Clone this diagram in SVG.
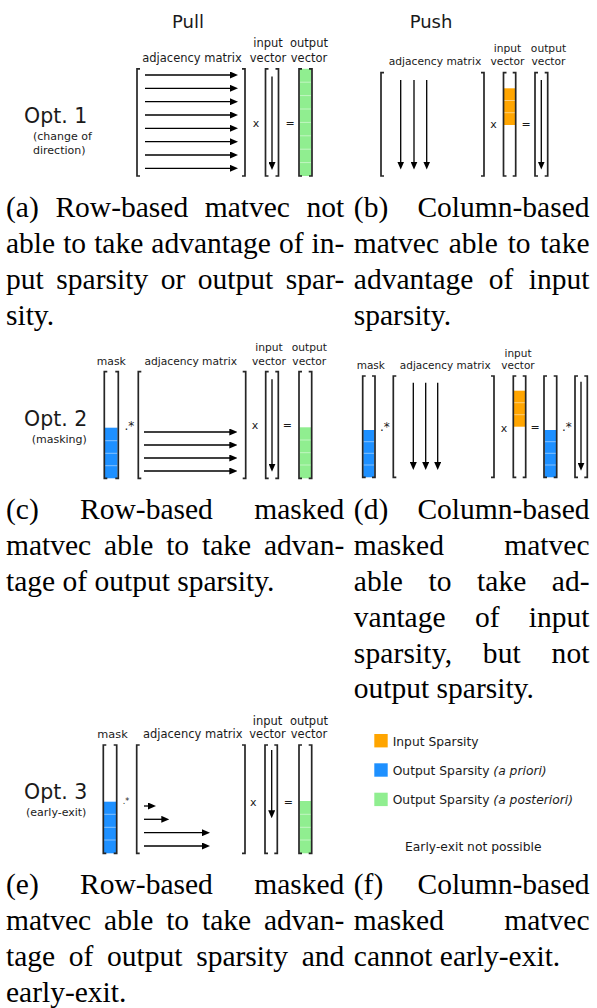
<svg xmlns="http://www.w3.org/2000/svg" width="597" height="1008" viewBox="0 0 597 1008">
  <defs>
    <marker id="ah" markerUnits="userSpaceOnUse" markerWidth="8" markerHeight="7" refX="4" refY="3.5" orient="auto">
      <path d="M0,0 L8,3.5 L0,7 z" fill="#000"/>
    </marker>
    <style>
      .lbl { font-family: "DejaVu Sans", Verdana, sans-serif; fill: #1a1a1a; }
      .title { font-size: 18px; text-anchor: middle; }
      .opt { font-size: 20.5px; }
      .sub { font-size: 11px; }
      .hd { text-anchor: middle; }
      .op { font-size: 11px; text-anchor: middle; }
      .brk { fill: none; stroke: #262626; stroke-width: 1.7; }
      .arr { fill: none; stroke: #000; stroke-width: 1.3; marker-end: url(#ah); }
      .sep { stroke: #ffffff; stroke-opacity: 0.45; stroke-width: 1; }
      .orange { fill: #ffa500; }
      .blue { fill: #1e90ff; }
      .green { fill: #90ee90; }
      .cap { font-family: "Liberation Serif", "Times New Roman", serif; font-size: 29.5px; fill: #000; }
      .leg { font-family: "DejaVu Sans", Verdana, sans-serif; font-size: 12.3px; fill: #1a1a1a; }
    </style>
  </defs>

  <!-- ===== Panel (a): pull, row-based ===== -->
  <g id="panel-a">
    <text class="lbl title" x="188" y="28">Pull</text>
    <text class="lbl opt" x="24" y="123">Opt. 1</text>
    <text class="lbl sub" x="33" y="140">(change of</text>
    <text class="lbl sub" x="33" y="154">direction)</text>
    <g id="a-matrix">
      <text class="lbl hd" x="192" y="61.5" font-size="11.5">adjacency matrix</text>
      <path class="brk" d="M140,68.8 H137 V176 H140 M242,68.8 H245 V176 H242"/>
    </g>
    <text class="lbl op" x="256" y="126.5">x</text>
    <g id="a-input">
      <text class="lbl hd" x="268" y="47" font-size="11.5">input</text>
      <text class="lbl hd" x="268" y="61.5" font-size="11.5">vector</text>
      <path class="brk" d="M268.5,68.8 H265.5 V176 H268.5 M275.5,68.8 H278.5 V176 H275.5"/>
    </g>
    <text class="lbl op" x="290" y="126.5">=</text>
    <g id="a-output">
      <text class="lbl hd" x="309" y="47" font-size="11.5">output</text>
      <text class="lbl hd" x="309" y="61.5" font-size="11.5">vector</text>
      <rect class="green" x="299.5" y="68.8" width="12" height="107.2"/>
      <path class="sep" d="M299.5,82.2 H311.5 M299.5,95.6 H311.5 M299.5,109 H311.5 M299.5,122.4 H311.5 M299.5,135.8 H311.5 M299.5,149.2 H311.5 M299.5,162.6 H311.5"/>
      <path class="brk" d="M302,68.8 H299 V176 H302 M309,68.8 H312 V176 H309"/>
    </g>
    <g id="a-connectors">
      <line class="arr" x1="145" y1="75" x2="234" y2="75"/>
      <line class="arr" x1="145" y1="88.3" x2="234" y2="88.3"/>
      <line class="arr" x1="145" y1="101.7" x2="234" y2="101.7"/>
      <line class="arr" x1="145" y1="115" x2="234" y2="115"/>
      <line class="arr" x1="145" y1="128.3" x2="234" y2="128.3"/>
      <line class="arr" x1="145" y1="141.7" x2="234" y2="141.7"/>
      <line class="arr" x1="145" y1="155" x2="234" y2="155"/>
      <line class="arr" x1="145" y1="168.3" x2="234" y2="168.3"/>
      <line class="arr" x1="272" y1="76.5" x2="272" y2="166"/>
    </g>
  </g>

  <!-- ===== Panel (b): push, column-based ===== -->
  <g id="panel-b">
    <text class="lbl title" x="431" y="28">Push</text>
    <g id="b-matrix">
      <text class="lbl hd" x="435" y="65" font-size="10.7">adjacency matrix</text>
      <path class="brk" d="M384,72.7 H381 V176 H384 M481,72.7 H484 V176 H481"/>
    </g>
    <text class="lbl op" x="493.5" y="128">x</text>
    <g id="b-input">
      <text class="lbl hd" x="507.5" y="52.3" font-size="10.7">input</text>
      <text class="lbl hd" x="507.5" y="65" font-size="10.7">vector</text>
      <rect class="orange" x="504" y="88.3" width="11.5" height="36.7"/>
      <path class="sep" d="M504,100.5 H515.5 M504,112.7 H515.5"/>
      <path class="brk" d="M506.5,72.7 H503.5 V176 H506.5 M512.7,72.7 H515.7 V176 H512.7"/>
    </g>
    <text class="lbl op" x="526" y="128">=</text>
    <g id="b-output">
      <text class="lbl hd" x="548.5" y="52.3" font-size="10.7">output</text>
      <text class="lbl hd" x="548.5" y="65" font-size="10.7">vector</text>
      <path class="brk" d="M538,72.7 H535 V176 H538 M544.7,72.7 H547.7 V176 H544.7"/>
    </g>
    <g id="b-connectors">
      <line class="arr" x1="400.7" y1="80" x2="400.7" y2="165.5"/>
      <line class="arr" x1="414" y1="80" x2="414" y2="165.5"/>
      <line class="arr" x1="426.7" y1="80" x2="426.7" y2="165.5"/>
      <line class="arr" x1="541.3" y1="80" x2="541.3" y2="165.5"/>
    </g>
  </g>

  <!-- ===== Panel (c): pull with mask ===== -->
  <g id="panel-c">
    <text class="lbl opt" x="24" y="426">Opt. 2</text>
    <text class="lbl sub" x="31.7" y="442.7">(masking)</text>
    <g id="c-mask">
      <text class="lbl hd" x="111.3" y="365" font-size="10.8">mask</text>
      <rect class="blue" x="105" y="427.7" width="12.6" height="50.6"/>
      <path class="sep" d="M105,440.7 H117.6 M105,453.3 H117.6 M105,465.7 H117.6"/>
      <path class="brk" d="M107.3,371.7 H104.3 V478.3 H107.3 M115.3,371.7 H118.3 V478.3 H115.3"/>
    </g>
    <text class="lbl" x="124.5" y="430" font-size="12">.*</text>
    <g id="c-matrix">
      <text class="lbl hd" x="190.7" y="365" font-size="10.7">adjacency matrix</text>
      <path class="brk" d="M141.3,371.7 H138.3 V478.3 H141.3 M242.7,371.7 H245.7 V478.3 H242.7"/>
    </g>
    <text class="lbl op" x="255" y="429">x</text>
    <g id="c-input">
      <text class="lbl hd" x="269" y="350.7" font-size="10.7">input</text>
      <text class="lbl hd" x="269" y="365" font-size="10.7">vector</text>
      <path class="brk" d="M268.7,371.7 H265.7 V478.3 H268.7 M275.3,371.7 H278.3 V478.3 H275.3"/>
    </g>
    <text class="lbl op" x="287.3" y="429">=</text>
    <g id="c-output">
      <text class="lbl hd" x="309.3" y="350.7" font-size="10.7">output</text>
      <text class="lbl hd" x="309.3" y="365" font-size="10.7">vector</text>
      <rect class="green" x="299.5" y="427.3" width="11.8" height="51"/>
      <path class="sep" d="M299.5,440 H311.3 M299.5,452.7 H311.3 M299.5,465 H311.3"/>
      <path class="brk" d="M302,371.7 H299 V478.3 H302 M308.7,371.7 H311.7 V478.3 H308.7"/>
    </g>
    <g id="c-connectors">
      <line class="arr" x1="144" y1="432" x2="233.3" y2="432"/>
      <line class="arr" x1="144" y1="445" x2="233.3" y2="445"/>
      <line class="arr" x1="144" y1="458" x2="233.3" y2="458"/>
      <line class="arr" x1="144" y1="471" x2="233.3" y2="471"/>
      <line class="arr" x1="272" y1="379.3" x2="272" y2="467.7"/>
    </g>
  </g>

  <!-- ===== Panel (d): push with mask ===== -->
  <g id="panel-d">
    <g id="d-mask">
      <text class="lbl hd" x="370.8" y="369.3" font-size="10.5">mask</text>
      <rect class="blue" x="363.2" y="430" width="11.3" height="47.3"/>
      <path class="sep" d="M363.2,441.7 H374.5 M363.2,453.3 H374.5 M363.2,465 H374.5"/>
      <path class="brk" d="M365.7,376 H362.7 V477.3 H365.7 M372,376 H375 V477.3 H372"/>
    </g>
    <text class="lbl" x="380" y="431" font-size="12">.*</text>
    <g id="d-matrix">
      <text class="lbl hd" x="445.3" y="369" font-size="10.5">adjacency matrix</text>
      <path class="brk" d="M396.3,376 H393.3 V477.3 H396.3 M491,376 H494 V477.3 H491"/>
    </g>
    <text class="lbl op" x="504" y="432">x</text>
    <g id="d-input">
      <text class="lbl hd" x="518" y="356.7" font-size="10.5">input</text>
      <text class="lbl hd" x="518" y="369" font-size="10.5">vector</text>
      <rect class="orange" x="514" y="390.7" width="11.5" height="36"/>
      <path class="sep" d="M514,402.7 H525.5 M514,414.7 H525.5"/>
      <path class="brk" d="M516.3,376 H513.3 V477.3 H516.3 M522.7,376 H525.7 V477.3 H522.7"/>
    </g>
    <text class="lbl op" x="535" y="431">=</text>
    <g id="d-result">
      <rect class="blue" x="544.5" y="430" width="11.7" height="47.3"/>
      <path class="sep" d="M544.5,441.7 H556.2 M544.5,453.3 H556.2 M544.5,465 H556.2"/>
      <path class="brk" d="M547,376 H544 V477.3 H547 M553.7,376 H556.7 V477.3 H553.7"/>
    </g>
    <text class="lbl" x="562" y="431" font-size="12">.*</text>
    <g id="d-output">
      <path class="brk" d="M578,376 H575 V477.3 H578 M584.3,376 H587.3 V477.3 H584.3"/>
    </g>
    <g id="d-connectors">
      <line class="arr" x1="413.3" y1="382.7" x2="413.3" y2="466"/>
      <line class="arr" x1="425.7" y1="382.7" x2="425.7" y2="466"/>
      <line class="arr" x1="437.7" y1="382.7" x2="437.7" y2="466"/>
      <line class="arr" x1="581" y1="381.7" x2="581" y2="466.7"/>
    </g>
  </g>

  <!-- ===== Panel (e): pull with mask and early exit ===== -->
  <g id="panel-e">
    <text class="lbl opt" x="24" y="799.3">Opt. 3</text>
    <text class="lbl sub" x="26" y="816">(early-exit)</text>
    <g id="e-mask">
      <text class="lbl hd" x="112.5" y="738.3" font-size="11.3">mask</text>
      <rect class="blue" x="104" y="801.7" width="12" height="51.6"/>
      <path class="sep" d="M104,814.3 H116 M104,827.3 H116 M104,840 H116"/>
      <path class="brk" d="M106.3,745 H103.3 V853.3 H106.3 M113.7,745 H116.7 V853.3 H113.7"/>
    </g>
    <text class="lbl" x="122.8" y="804" font-size="8">.*</text>
    <g id="e-matrix">
      <text class="lbl hd" x="192.7" y="738.3" font-size="11.5">adjacency matrix</text>
      <path class="brk" d="M139.7,745 H136.7 V853.3 H139.7 M242,745 H245 V853.3 H242"/>
    </g>
    <text class="lbl op" x="253.3" y="806" font-size="8">x</text>
    <g id="e-input">
      <text class="lbl hd" x="267.5" y="725" font-size="11.5">input</text>
      <text class="lbl hd" x="267.5" y="738.3" font-size="11.5">vector</text>
      <path class="brk" d="M268,745 H265 V853.3 H268 M274.3,745 H277.3 V853.3 H274.3"/>
    </g>
    <text class="lbl op" x="288.3" y="806" font-size="8">=</text>
    <g id="e-output">
      <text class="lbl hd" x="309" y="725" font-size="11.5">output</text>
      <text class="lbl hd" x="309" y="738.3" font-size="11.5">vector</text>
      <rect class="green" x="299.5" y="801" width="11.8" height="52.3"/>
      <path class="sep" d="M299.5,814.3 H311.3 M299.5,827.3 H311.3 M299.5,840 H311.3"/>
      <path class="brk" d="M302,745 H299 V853.3 H302 M308.7,745 H311.7 V853.3 H308.7"/>
    </g>
    <g id="e-connectors">
      <line class="arr" x1="144" y1="806" x2="152" y2="806"/>
      <line class="arr" x1="144" y1="819.3" x2="165.3" y2="819.3"/>
      <line class="arr" x1="144" y1="832.7" x2="206" y2="832.7"/>
      <line class="arr" x1="144" y1="846" x2="206" y2="846"/>
      <line class="arr" x1="271.7" y1="750" x2="271.7" y2="814.3"/>
    </g>
  </g>

  <!-- ===== Panel (f): legend ===== -->
  <g id="panel-f">
    <g id="legend-input">
      <rect class="orange" x="374.3" y="734" width="13.4" height="13.4"/>
      <text class="leg" x="392.7" y="745.7">Input Sparsity</text>
    </g>
    <g id="legend-priori">
      <rect class="blue" x="374.3" y="763.3" width="13.4" height="13.4"/>
      <text class="leg" x="392.7" y="775">Output Sparsity <tspan font-style="italic">(a priori)</tspan></text>
    </g>
    <g id="legend-posteriori">
      <rect class="green" x="374.3" y="792.7" width="13.4" height="13.4"/>
      <text class="leg" x="392.7" y="804.3">Output Sparsity <tspan font-style="italic">(a posteriori)</tspan></text>
    </g>
    <text class="leg" x="473.3" y="850.7" text-anchor="middle">Early-exit not possible</text>
  </g>

  <!-- ===== Sub-figure captions (justified columns) ===== -->
  <g id="captions">
    <text class="cap" x="6" y="217.3" word-spacing="9.27" textLength="338.3" lengthAdjust="spacing">(a) Row-based matvec not</text>
    <text class="cap" x="6" y="253.1" word-spacing="0.64" textLength="338.3" lengthAdjust="spacing">able to take advantage of in-</text>
    <text class="cap" x="6" y="288.9" word-spacing="5.1" textLength="338.3" lengthAdjust="spacing">put sparsity or output spar-</text>
    <text class="cap" x="6" y="324.7">sity.</text>

    <text class="cap" x="353.8" y="217.3" word-spacing="21.8" textLength="235.7" lengthAdjust="spacing">(b) Column-based</text>
    <text class="cap" x="353.8" y="253.1" word-spacing="2.37" textLength="235.7" lengthAdjust="spacing">matvec able to take</text>
    <text class="cap" x="353.8" y="288.9" word-spacing="8.06" textLength="235.7" lengthAdjust="spacing">advantage of input</text>
    <text class="cap" x="353.8" y="324.7">sparsity.</text>

    <text class="cap" x="6" y="519.3" word-spacing="34" textLength="338.3" lengthAdjust="spacing">(c) Row-based masked</text>
    <text class="cap" x="6" y="555.1" word-spacing="5.5" textLength="338.3" lengthAdjust="spacing">matvec able to take advan-</text>
    <text class="cap" x="6" y="590.9">tage of output sparsity.</text>

    <text class="cap" x="353.8" y="519.3" word-spacing="21.8" textLength="235.7" lengthAdjust="spacing">(d) Column-based</text>
    <text class="cap" x="353.8" y="555.1" word-spacing="53" textLength="235.7" lengthAdjust="spacing">masked matvec</text>
    <text class="cap" x="353.8" y="590.9" word-spacing="18.2" textLength="235.7" lengthAdjust="spacing">able to take ad-</text>
    <text class="cap" x="353.8" y="626.7" word-spacing="22" textLength="235.7" lengthAdjust="spacing">vantage of input</text>
    <text class="cap" x="353.8" y="662.5" word-spacing="23.2" textLength="235.7" lengthAdjust="spacing">sparsity, but not</text>
    <text class="cap" x="353.8" y="698.3">output sparsity.</text>

    <text class="cap" x="6" y="894.3" word-spacing="34" textLength="338.3" lengthAdjust="spacing">(e) Row-based masked</text>
    <text class="cap" x="6" y="930.1" word-spacing="5.5" textLength="338.3" lengthAdjust="spacing">matvec able to take advan-</text>
    <text class="cap" x="6" y="965.9" word-spacing="6.3" textLength="338.3" lengthAdjust="spacing">tage of output sparsity and</text>
    <text class="cap" x="6" y="1001.7">early-exit.</text>

    <text class="cap" x="353.8" y="894.3" word-spacing="26.8" textLength="235.7" lengthAdjust="spacing">(f) Column-based</text>
    <text class="cap" x="353.8" y="930.1" word-spacing="53" textLength="235.7" lengthAdjust="spacing">masked matvec</text>
    <text class="cap" x="353.8" y="965.9">cannot early-exit.</text>
  </g>
</svg>
